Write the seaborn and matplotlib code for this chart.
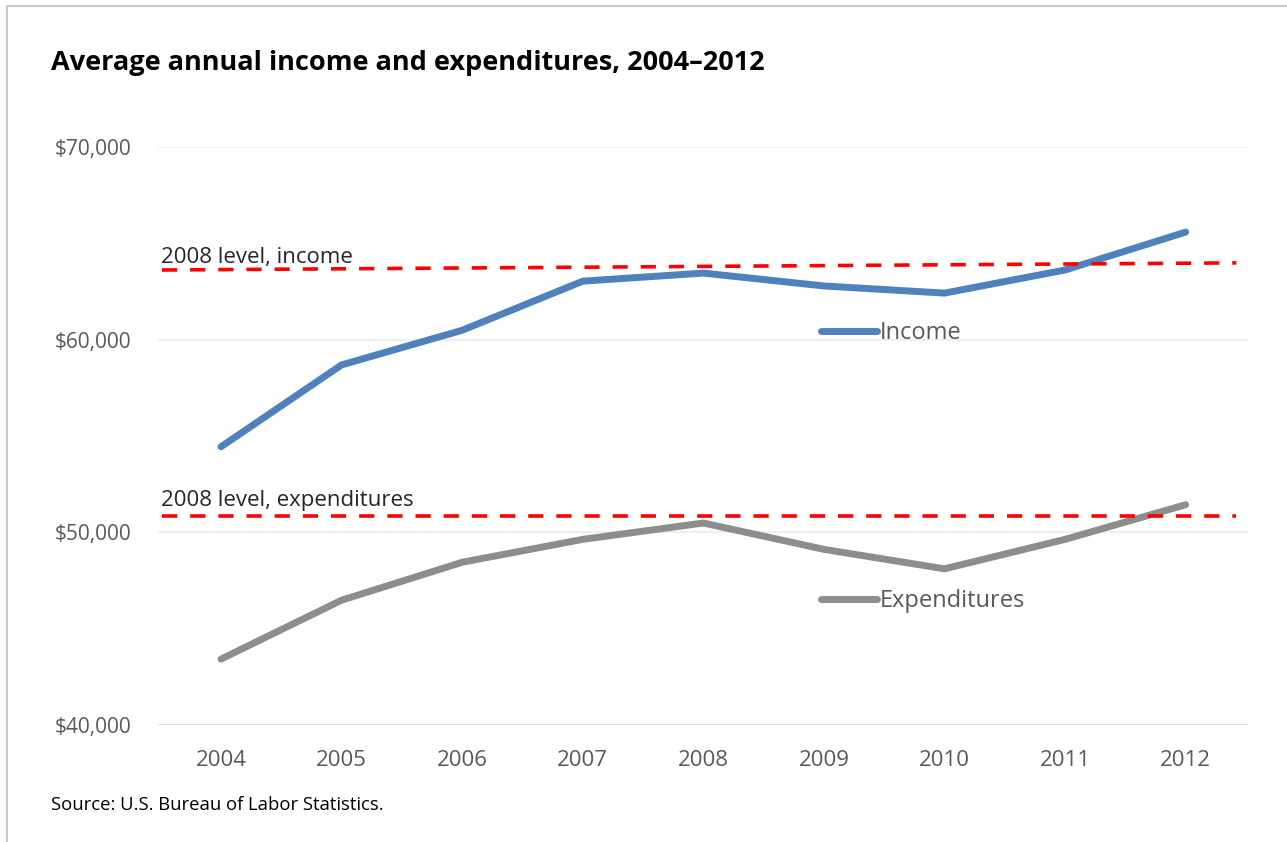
import pandas as pd
import seaborn as sns
import matplotlib.pyplot as plt
from matplotlib.lines import Line2D
from matplotlib.patches import Rectangle
from matplotlib.ticker import FuncFormatter

# Datos
years = [2004, 2005, 2006, 2007, 2008, 2009, 2010, 2011, 2012]
income = [54450, 58700, 60500, 63050, 63470, 62800, 62430, 63630, 65600]
expenditures = [43420, 46480, 48450, 49640, 50490, 49120, 48110, 49640, 51440]
series_names = ['Income', 'Expenditures']
# linea "2008 level" (extremo izquierdo, extremo derecho)
income_level = [63630, 64000]
expend_level = [50830, 50830]
level_labels = ['2008 level, income', '2008 level, expenditures']

colors = {'Income': '#4f81bd', 'Expenditures': '#8a9089'}

df = pd.DataFrame({
    'year': years * 2,
    'value': income + expenditures,
    'series': [series_names[0]] * len(years) + [series_names[1]] * len(years),
})

sns.set_theme(style='white')
plt.rcParams['font.family'] = ['Open Sans', 'DejaVu Sans']

fig = plt.figure(figsize=(12.87, 8.42), dpi=100)
ax = fig.add_axes([0.123, 0.139, 0.847, 0.686])

# Grid
for v in [40000, 50000, 60000, 70000]:
    ax.axhline(v, color='#d9d9d9' if v == 40000 else '#ececec', lw=1.2, zorder=0)

sns.lineplot(data=df, x='year', y='value', hue='series', palette=colors,
             linewidth=5, ax=ax, legend=False, zorder=3)
for l in ax.lines[-2:]:
    l.set_solid_capstyle('round')
    l.set_solid_joinstyle('round')

# Lineas de nivel 2008
x_lvl = [2003.51, 2012.42]
ax.plot(x_lvl, income_level, color='#ff0000', lw=2.6, dashes=(4.2, 3.6), zorder=4)
ax.plot(x_lvl, expend_level, color='#ff0000', lw=2.6, dashes=(4.2, 3.6), zorder=4)
ax.text(2003.50, income_level[0] + 380, level_labels[0], fontsize=16,
        color='#262626', va='baseline', ha='left')
ax.text(2003.50, expend_level[0] + 520, level_labels[1], fontsize=16,
        color='#262626', va='baseline', ha='left')

ax.set_xlim(2003.48, 2012.52)
ax.set_ylim(40000, 70000)
ax.set_yticks([40000, 50000, 60000, 70000])
ax.set_xticks(years)
ax.yaxis.set_major_formatter(FuncFormatter(lambda v, p: f'${v:,.0f}'))
ax.tick_params(axis='both', labelcolor='#595959', length=0)
ax.tick_params(axis='y', pad=19.5, labelsize=15)
ax.tick_params(axis='x', pad=18, labelsize=16)
ax.set_xlabel('')
ax.set_ylabel('')
for s in ax.spines.values():
    s.set_visible(False)

# Leyendas separadas (como en Excel)
h_inc = Line2D([], [], color=colors['Income'], lw=5, solid_capstyle='round')
h_exp = Line2D([], [], color=colors['Expenditures'], lw=5, solid_capstyle='round')
leg1 = ax.legend([h_inc], [series_names[0]], loc='center left',
                 bbox_to_anchor=(0.588, 0.678), frameon=False, fontsize=17,
                 handlelength=2.4, handletextpad=0.1, labelcolor='#595959')
ax.add_artist(leg1)
ax.legend([h_exp], [series_names[1]], loc='center left',
          bbox_to_anchor=(0.588, 0.2145), frameon=False, fontsize=17,
          handlelength=2.4, handletextpad=0.1, labelcolor='#595959')

fig.text(0.040, 0.925, 'Average annual income and expenditures, 2004\u20132012',
         fontsize=19.5, fontweight='bold', color='#000000', va='center')
fig.text(0.040, 0.044, 'Source: U.S. Bureau of Labor Statistics.',
         fontsize=13.3, color='#000000', va='center')

fig.patches.append(Rectangle((0.0055, -0.05), 1.1, 1.043, transform=fig.transFigure,
                             fill=False, edgecolor='#c8c8c8', lw=1.5))

fig.savefig('out.png', dpi=100)
plt.close()
